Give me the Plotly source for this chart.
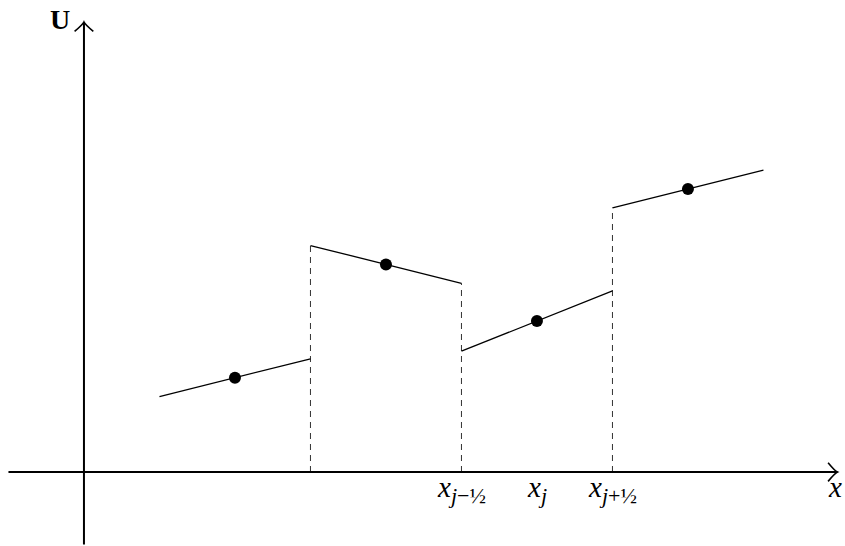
import plotly.graph_objects as go

# Cell interfaces and centres (in cell-width units)
cell_left = [0.5, 1.5, 2.5, 3.5]
cell_right = [1.5, 2.5, 3.5, 4.5]
cell_centre = [1.0, 2.0, 3.0, 4.0]

# Reconstructed linear profile in each cell: value at left edge, right edge, centre
u_left = [0.5, 1.5, 0.8, 1.75]
u_right = [0.75, 1.25, 1.2, 2.0]
u_centre = [0.625, 1.375, 1.0, 1.875]

# Interface positions that get a dashed jump marker
interfaces = [1.5, 2.5, 3.5]

# Tick labels under the x-axis
SUB = '<sub><span style="font-size:22px">{}</span></sub>'
tick_pos = [2.5, 3.0, 3.5]
tick_text = ["<i>x</i>" + SUB.format("<i>j</i>−½"),
             "<i>x</i>" + SUB.format("<i>j</i>"),
             "<i>x</i>" + SUB.format("<i>j</i>+½")]

X_RANGE = [-0.556, 5.040]
Y_RANGE = [-0.490, 3.126]
X_AXIS_END = [-0.50, 4.99]
Y_AXIS_END = [-0.48, 2.98]

FONT = "Liberation Serif, DejaVu Serif, serif"

fig = go.Figure()

# Dashed lines at the interfaces, up to the larger of the two one-sided values
for xi in interfaces:
    k = cell_left.index(xi)
    top = max(u_left[k], u_right[k - 1])
    fig.add_trace(go.Scatter(
        x=[xi, xi], y=[0, top], mode="lines",
        line=dict(color="#333333", width=1, dash="6px,5px"),
        hoverinfo="skip", showlegend=False))

# Linear reconstructions
for a, b, ul, ur in zip(cell_left, cell_right, u_left, u_right):
    fig.add_trace(go.Scatter(
        x=[a, b], y=[ul, ur], mode="lines",
        line=dict(color="black", width=1.3),
        hoverinfo="skip", showlegend=False))

# Cell averages at the centres
fig.add_trace(go.Scatter(
    x=cell_centre, y=u_centre, mode="markers",
    marker=dict(color="black", size=12),
    hoverinfo="skip", showlegend=False))

# Axes lines
axis_line = dict(color="black", width=2)
fig.add_shape(type="line", x0=X_AXIS_END[0], x1=X_AXIS_END[1], y0=0, y1=0,
              xref="x", yref="y", line=axis_line)
fig.add_shape(type="line", x0=0, x1=0, y0=Y_AXIS_END[0], y1=Y_AXIS_END[1],
              xref="x", yref="y", line=axis_line)

# Open arrowheads
w = 0.062
xt = X_AXIS_END[1]
fig.add_shape(type="path", xref="x", yref="y", line=dict(color="black", width=1.6),
              path=f"M {xt - w},{w} Q {xt - w * 0.25},{w * 0.1} {xt},0 "
                   f"Q {xt - w * 0.25},{-w * 0.1} {xt - w},{-w}")
yt = Y_AXIS_END[1]
fig.add_shape(type="path", xref="x", yref="y", line=dict(color="black", width=1.6),
              path=f"M {-w},{yt - w} Q {-w * 0.1},{yt - w * 0.25} 0,{yt} "
                   f"Q {w * 0.1},{yt - w * 0.25} {w},{yt - w}")

# Tick labels
for xp, txt in zip(tick_pos, tick_text):
    fig.add_annotation(x=xp, y=0.02, text=txt, showarrow=False,
                       xanchor="center", yanchor="top",
                       font=dict(family=FONT, size=29, color="black"))

# Axis names
fig.add_annotation(x=5.035, y=0.02, text="<i>x</i>", showarrow=False,
                   xanchor="right", yanchor="top",
                   font=dict(family=FONT, size=29, color="black"))
fig.add_annotation(x=-0.16, y=Y_AXIS_END[1] + 0.015, text="<b>U</b>", showarrow=False,
                   xanchor="center", yanchor="middle",
                   font=dict(family=FONT, size=28, color="black"))

fig.update_xaxes(range=X_RANGE, visible=False, fixedrange=True)
fig.update_yaxes(range=Y_RANGE, visible=False, fixedrange=True)
fig.update_layout(
    width=845, height=546,
    margin=dict(l=0, r=0, t=0, b=0),
    paper_bgcolor="white", plot_bgcolor="white",
    showlegend=False,
)

fig.write_html("out.html")
